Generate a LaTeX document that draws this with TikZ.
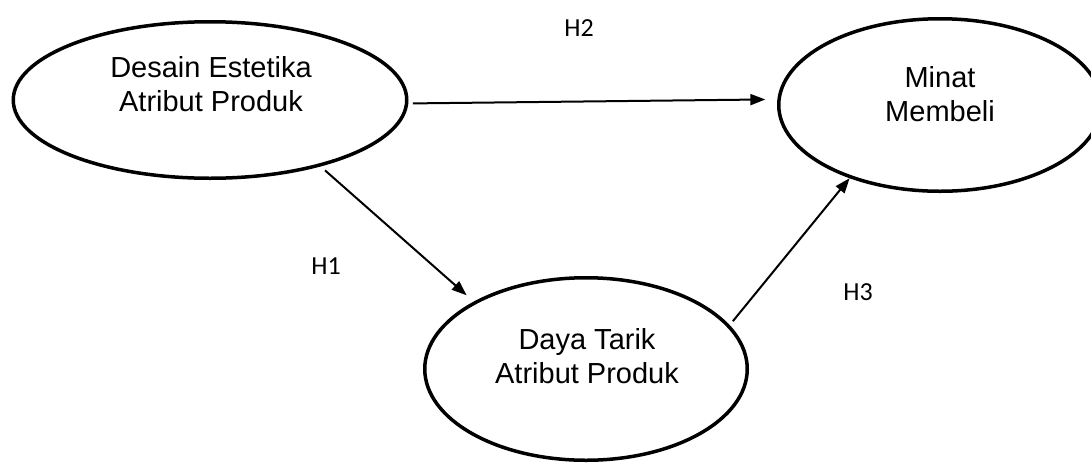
\documentclass[tikz,border=0pt]{standalone}
\usepackage{fontspec}
\setmainfont{Liberation Sans}
\newfontfamily\hypfont{Carlito}
\usetikzlibrary{shapes.geometric,arrows.meta}
\begin{document}
\begin{tikzpicture}[x=1pt,y=-1pt,
  construct/.style={draw, ellipse, line width=3.5pt, inner sep=0pt},
  nametext/.style={align=center, font=\fontsize{29}{34}\selectfont, inner sep=0pt},
  hyplabel/.style={font=\hypfont\fontsize{26}{30}\selectfont, inner sep=0pt},
  link/.style={line width=2pt, -{Triangle[length=15pt,width=11pt]}}
]
% canvas
\fill[white] (0,0) rectangle (1091,464);
\useasboundingbox (0,0) rectangle (1091,464);
\clip (0,0) rectangle (1091,464);

% constructs
\node[construct, minimum width=393.5pt, minimum height=156.5pt] (desain) at (210,100) {};
\node[nametext] (desainText) at (211,84.5) {Desain Estetika\\Atribut Produk};

\node[construct, minimum width=322.5pt, minimum height=172.5pt] (minat) at (940,105) {};
\node[nametext] (minatText) at (940,94) {Minat\\Membeli};

\node[construct, minimum width=322.5pt, minimum height=182.5pt] (daya) at (586,369) {};
\node[nametext] (dayaText) at (587,356.5) {Daya Tarik\\Atribut Produk};

% hypotheses
\draw[link, shorten <=4.5pt, shorten >=12pt] (desain.-1) -- (minat.178.5);
\draw[link, shorten <=6pt, shorten >=9.5pt] (desain.-31.3) -- (daya.149.2);
\draw[link, shorten <=5pt] (daya.17.7) -- (minat.-141.3);

\node[hyplabel] (h2) at (579,28) {H2};
\node[hyplabel] (h1) at (326,266) {H1};
\node[hyplabel] (h3) at (858,292) {H3};
\end{tikzpicture}
\end{document}
